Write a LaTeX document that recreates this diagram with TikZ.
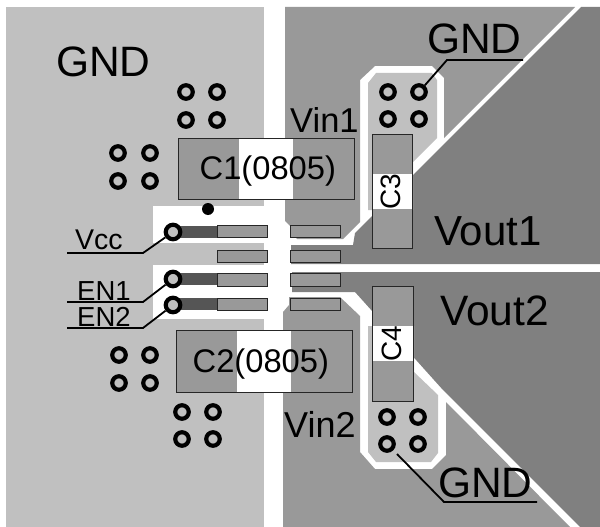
\documentclass[tikz,border=0pt]{standalone}
\usepackage{fontspec}
\setmainfont{Liberation Sans}
\definecolor{plane}{HTML}{C0C0C0}
\definecolor{vin}{HTML}{999999}
\definecolor{vout}{HTML}{808080}
\definecolor{trace}{HTML}{555555}
\tikzset{
	lbl/.style={anchor=base west, inner sep=0pt, font=\fontsize{#1}{#1}\selectfont},
	via/.style={circle, draw=black, line width=4.2pt, fill=plane, minimum size=13.5pt, inner sep=0pt},
	pin/.style={circle, draw=black, line width=4.2pt, fill=plane, minimum size=14.5pt, inner sep=0pt},
	pad/.style={draw=black!85, line width=.9pt, fill=vin},
	body/.style={draw=black!85, line width=1pt},
	leader/.style={draw=black, line width=1.8pt}
}
\begin{document}
\begin{tikzpicture}[x=1pt, y=-1pt]
				\useasboundingbox (0,0) rectangle (600,527);
				% copper planes
				\draw[draw=none, fill=plane] (6,7) rectangle (264,527);
				\draw[draw=none, fill=white] (153,206) rectangle (264,243);
				\draw[draw=none, fill=white] (153,265) rectangle (264,319);
				\draw[draw=none, fill=vin] (285,7) -- (575,7) -- (444,138) -- (444,78) -- (432,66) -- (375,66) -- (360,80) -- (360,222) -- (343,239) -- (297,239) -- (290,232) -- (290,226) -- (285,221) -- cycle;
				\draw[draw=none, fill=vin] (283,527) -- (283,312) -- (289,305) -- (289,297) -- (340,297) -- (360,316) -- (360,452) -- (375,469) -- (432,469) -- (446,455) -- (446,402) -- (570,527) -- cycle;
				\draw[draw=none, fill=vout] (581,7) -- (600,7) -- (600,264) -- (291,264) -- (291,245) -- (353,245) -- (355,233) -- cycle;
				\draw[draw=none, fill=vout] (292,272) -- (600,272) -- (600,527) -- (580,527) -- (443,390) -- (355,292) -- (292,292) -- cycle;
				\draw[draw=none, fill=plane] (368,210) -- (368,83) -- (376,73) -- (432,73) -- (437,80) -- (437,138) -- (413,162) -- (413,210) -- cycle;
				\draw[draw=none, fill=plane] (368,326) -- (368,452) -- (376,462) -- (431,462) -- (438,453) -- (438,395) -- (414,372) -- (414,326) -- cycle;
				% capacitors
				\draw[draw=none, fill=vin] (178,138) rectangle (354,199);
				\draw[draw=none, fill=white] (239,138) rectangle (293,199);
				\draw[body] (178,138) rectangle (354,199);
				\draw[draw=none, fill=vin] (176,330) rectangle (352,392);
				\draw[draw=none, fill=white] (237,330) rectangle (291,392);
				\draw[body] (176,330) rectangle (352,392);
				\draw[draw=none, fill=vin] (372,134) rectangle (412,248);
				\draw[draw=none, fill=white] (372,174) rectangle (412,209);
				\draw[body] (372,134) rectangle (412,248);
				\draw[draw=none, fill=vin] (372,286) rectangle (413,401);
				\draw[draw=none, fill=white] (372,326) rectangle (413,361);
				\draw[body] (372,286) rectangle (413,401);
				% package pads
				\foreach \y in {226,273,298} {
					\draw[draw=none, fill=trace] (173,\y) rectangle (217,\y+12);
				}
				\foreach \y/\h in {225/237,250/262,273/286,298/310} {
					\draw[pad] (217,\y) rectangle (267,\h);
					\draw[pad] (290,\y) rectangle (340,\h);
				}
				\fill (208,209) circle (6);
				% vias
				\foreach \x/\y [count=\i] in {186/92,217/92,186/120,217/120,118/153,150/153,118/181,150/181,119/355,150/355,119/383,150/383,182/412,213/412,182/439,213/439,388/92,419/92,388/119,419/119,387/417,418/417,387/444,418/444} {
					\node[via] (via\i) at (\x,\y) {};
				}
				\node[pin] (vcc) at (173,232) {};
				\node[pin] (enOne) at (173,279) {};
				\node[pin] (enTwo) at (173,305) {};
				% leaders
				\coordinate (vccKnee) at (143,253);
				\coordinate (vccEnd) at (67,253);
				\coordinate (enOneKnee) at (143,302);
				\coordinate (enOneEnd) at (67,302);
				\coordinate (enTwoKnee) at (143,328);
				\coordinate (enTwoEnd) at (67,328);
				\coordinate (gndTopKnee) at (447,60);
				\coordinate (gndTopEnd) at (523,60);
				\coordinate (gndBotStart) at (397,454);
				\coordinate (gndBotKnee) at (444,502);
				\coordinate (gndBotEnd) at (537,502);
				\draw[leader] (vcc) -- (vccKnee) -- (vccEnd);
				\draw[leader] (enOne) -- (enOneKnee) -- (enOneEnd);
				\draw[leader] (enTwo) -- (enTwoKnee) -- (enTwoEnd);
				\draw[leader] (via18) -- (gndTopKnee) -- (gndTopEnd);
				\draw[leader] (gndBotStart) -- (gndBotKnee) -- (gndBotEnd);
				% labels
				\node[lbl=42.5] (gndPlane) at (56,77) {GND};
				\node[lbl=42.5] (gndTop) at (427,54) {GND};
				\node[lbl=42.5] (gndBot) at (438,497) {GND};
				\node[lbl=34.5] (vinOne) at (290,132) {Vin1};
				\node[lbl=36] (vinTwo) at (284,437) {Vin2};
				\node[lbl=42] (voutOne) at (434,245) {Vout1};
				\node[lbl=42.5] (voutTwo) at (440,325) {Vout2};
				\node[lbl=32.7] (capOne) at (199.5,179) {C1(0805)};
				\node[lbl=32.7] (capTwo) at (192.5,372) {C2(0805)};
				\node[font=\fontsize{28}{28}\selectfont, rotate=90, inner sep=0pt] (capThree) at (391,192) {C3};
				\node[font=\fontsize{28}{28}\selectfont, rotate=90, inner sep=0pt] (capFour) at (392,344) {C4};
				\node[lbl=28.5] (vccLabel) at (75,249) {Vcc};
				\node[lbl=27.5] (enOneLabel) at (77,300) {EN1};
				\node[lbl=27.5] (enTwoLabel) at (77,326) {EN2};
			\end{tikzpicture}
\end{document}
